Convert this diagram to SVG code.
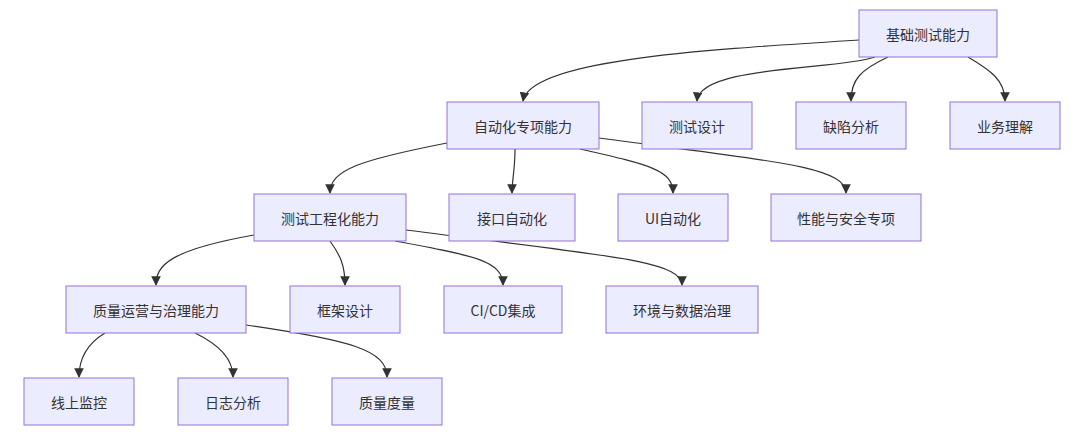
<svg xmlns="http://www.w3.org/2000/svg" width="1080" height="439" viewBox="0 0 1080 439">
<style>
.n rect{fill:#ECECFF;stroke:#9370DB;stroke-width:1}
.n text{font-family:"Noto Sans CJK SC","Noto Sans",sans-serif;font-size:14px;fill:#333;text-anchor:middle;dominant-baseline:central}
.e path{fill:none;stroke:#333;stroke-width:1.2;marker-end:url(#a)}
</style>
<defs><marker id="a" viewBox="0 0 10 10" refX="9" refY="5" markerWidth="8" markerHeight="8" orient="auto"><path d="M0,0L10,5L0,10z" fill="#333"/></marker></defs>
<rect width="1080" height="439" fill="#fff"/>
<g id="edges" class="e">
<path d="M859,40 C700,50 530,60 523,101"/>
<path d="M875,57 C840,70 700,65 697,101"/>
<path d="M888,57 C860,70 851,80 851,101"/>
<path d="M968,57 C990,70 1005,80 1005,101"/>
<path d="M447,143 C360,160 330,170 330,193"/>
<path d="M515,149 C515,170 512,180 512,193"/>
<path d="M580,149 C650,165 673,170 673,193"/>
<path d="M599,138 C760,160 846,165 846,193"/>
<path d="M254,235 C170,250 156,265 156,285"/>
<path d="M330,241 C340,255 345,265 345,285"/>
<path d="M395,241 C470,255 503,260 503,285"/>
<path d="M406,230 C600,255 682,260 682,285"/>
<path d="M105,333 C85,345 79,360 79,377"/>
<path d="M195,333 C220,345 233,360 233,377"/>
<path d="M246,325 C350,340 387,350 387,377"/>
</g>
<g id="n1" class="n"><rect x="859" y="10" width="138" height="47"/><text x="928" y="33.5">基础测试能力</text></g>
<g id="n2" class="n"><rect x="447" y="102" width="152" height="47"/><text x="523" y="125.5">自动化专项能力</text></g>
<g id="n3" class="n"><rect x="642" y="102" width="110" height="47"/><text x="697" y="125.5">测试设计</text></g>
<g id="n4" class="n"><rect x="796" y="102" width="110" height="47"/><text x="851" y="125.5">缺陷分析</text></g>
<g id="n5" class="n"><rect x="950" y="102" width="110" height="47"/><text x="1005" y="125.5">业务理解</text></g>
<g id="n6" class="n"><rect x="254" y="194" width="152" height="47"/><text x="330" y="217.5">测试工程化能力</text></g>
<g id="n7" class="n"><rect x="449" y="194" width="126" height="47"/><text x="512" y="217.5">接口自动化</text></g>
<g id="n8" class="n"><rect x="618" y="194" width="110" height="47"/><text x="673" y="217.5">UI自动化</text></g>
<g id="n9" class="n"><rect x="771" y="194" width="150" height="47"/><text x="846" y="217.5">性能与安全专项</text></g>
<g id="n10" class="n"><rect x="66" y="286" width="180" height="47"/><text x="156" y="309.5">质量运营与治理能力</text></g>
<g id="n11" class="n"><rect x="290" y="286" width="110" height="47"/><text x="345" y="309.5">框架设计</text></g>
<g id="n12" class="n"><rect x="444" y="286" width="118" height="47"/><text x="503" y="309.5">CI/CD集成</text></g>
<g id="n13" class="n"><rect x="606" y="286" width="152" height="47"/><text x="682" y="309.5">环境与数据治理</text></g>
<g id="n14" class="n"><rect x="24" y="378" width="110" height="47"/><text x="79" y="401.5">线上监控</text></g>
<g id="n15" class="n"><rect x="178" y="378" width="110" height="47"/><text x="233" y="401.5">日志分析</text></g>
<g id="n16" class="n"><rect x="332" y="378" width="110" height="47"/><text x="387" y="401.5">质量度量</text></g>
</svg>
